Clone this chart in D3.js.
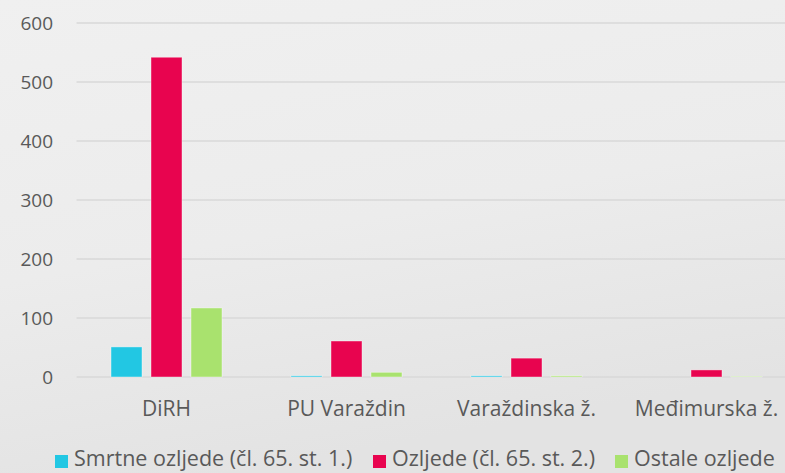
<!DOCTYPE html>
<html>
<head>
<meta charset="utf-8" />
<style>
body { margin: 0; background: #eee; }
svg { display: block; }
.tick text { font-family: "Open Sans", sans-serif; fill: #595959; }
.legend text { font-family: "Open Sans", sans-serif; fill: #595959; font-size: 21.5px; }
</style>
<script src="https://cdnjs.cloudflare.com/ajax/libs/d3/7.8.5/d3.min.js"></script>
</head>
<body>
<div id="chart"></div>
<script>
// data
var categories = ["DiRH", "PU Varaždin", "Varaždinska ž.", "Međimurska ž."];
var seriesNames = ["Smrtne ozljede (čl. 65. st. 1.)", "Ozljede (čl. 65. st. 2.)", "Ostale ozljede"];
var smrtne = [51, 2, 2, 0];
var ozljede = [542, 61, 32, 12];
var ostale = [117, 8, 2, 1];
var colors = ["#22c7e3", "#e8044f", "#a9e26e"];
var yTicks = [0, 100, 200, 300, 400, 500, 600];

var W = 785, H = 473;
var margin = { top: 23, left: 76.5, bottom: 96 };
var plotBottom = H - margin.bottom;

var svg = d3.select("#chart").append("svg")
  .attr("width", W).attr("height", H);

// background, approximating the faded photo
var defs = svg.append("defs");
var grad = defs.append("linearGradient").attr("id", "bg")
  .attr("x1", "0").attr("y1", "0").attr("x2", "0.3").attr("y2", "1");
grad.append("stop").attr("offset", "0").attr("stop-color", "#f0f0f0");
grad.append("stop").attr("offset", "0.55").attr("stop-color", "#ececec");
grad.append("stop").attr("offset", "1").attr("stop-color", "#e3e3e3");
svg.append("rect").attr("width", W).attr("height", H).attr("fill", "url(#bg)");

var x = d3.scaleBand()
  .domain(categories)
  .range([margin.left, margin.left + 180 * categories.length])
  .paddingInner(0).paddingOuter(0);

var x1 = d3.scaleBand()
  .domain(d3.range(seriesNames.length))
  .range([0, x.bandwidth()])
  .paddingInner(0.225).paddingOuter(0.8625);

var y = d3.scaleLinear().domain([0, 600]).range([plotBottom, margin.top]);

// gridlines
svg.append("g").selectAll("line")
  .data(yTicks)
  .join("line")
  .attr("x1", margin.left).attr("x2", W)
  .attr("y1", function(d) { return y(d); })
  .attr("y2", function(d) { return y(d); })
  .attr("stroke", "#d9d9d9").attr("stroke-width", 1.3);

// y axis labels
var yAxis = d3.axisLeft(y).tickValues(yTicks).tickSize(0).tickPadding(0);
svg.append("g")
  .attr("transform", "translate(53,0)")
  .call(yAxis)
  .call(function(g) { g.select(".domain").remove(); })
  .selectAll("text").attr("font-size", "19px").attr("dy", "0.36em");

var series = [smrtne, ozljede, ostale];
var rows = [];
categories.forEach(function(c, i) {
  series.forEach(function(s, j) {
    rows.push({ cat: c, k: j, v: s[i] });
  });
});

svg.append("g").selectAll("rect")
  .data(rows.filter(function(d) { return d.v > 0; }))
  .join("rect")
  .attr("x", function(d) { return x(d.cat) + x1(d.k); })
  .attr("y", function(d) { return y(d.v); })
  .attr("width", x1.bandwidth())
  .attr("height", function(d) { return plotBottom - y(d.v); })
  .attr("fill", function(d) { return colors[d.k]; })
  .attr("stroke", "rgba(255,255,255,0.5)").attr("stroke-width", 0.8);

// category axis
var xAxis = d3.axisBottom(x).tickSize(0).tickPadding(0);
svg.append("g")
  .attr("transform", "translate(0,408)")
  .call(xAxis)
  .call(function(g) { g.select(".domain").remove(); })
  .selectAll("text").attr("font-size", "21px").attr("y", 0).attr("dy", "0.36em");

// legend
var legendX = [55, 373, 615];
var legend = svg.append("g").attr("class", "legend")
  .selectAll("g")
  .data(seriesNames)
  .join("g")
  .attr("transform", function(d, i) { return "translate(" + legendX[i] + ",455)"; });
legend.append("rect")
  .attr("width", 13).attr("height", 13)
  .attr("fill", function(d, i) { return colors[i]; });
legend.append("text")
  .attr("x", 19).attr("y", 11)
  .text(function(d) { return d; });
</script>
</body>
</html>
